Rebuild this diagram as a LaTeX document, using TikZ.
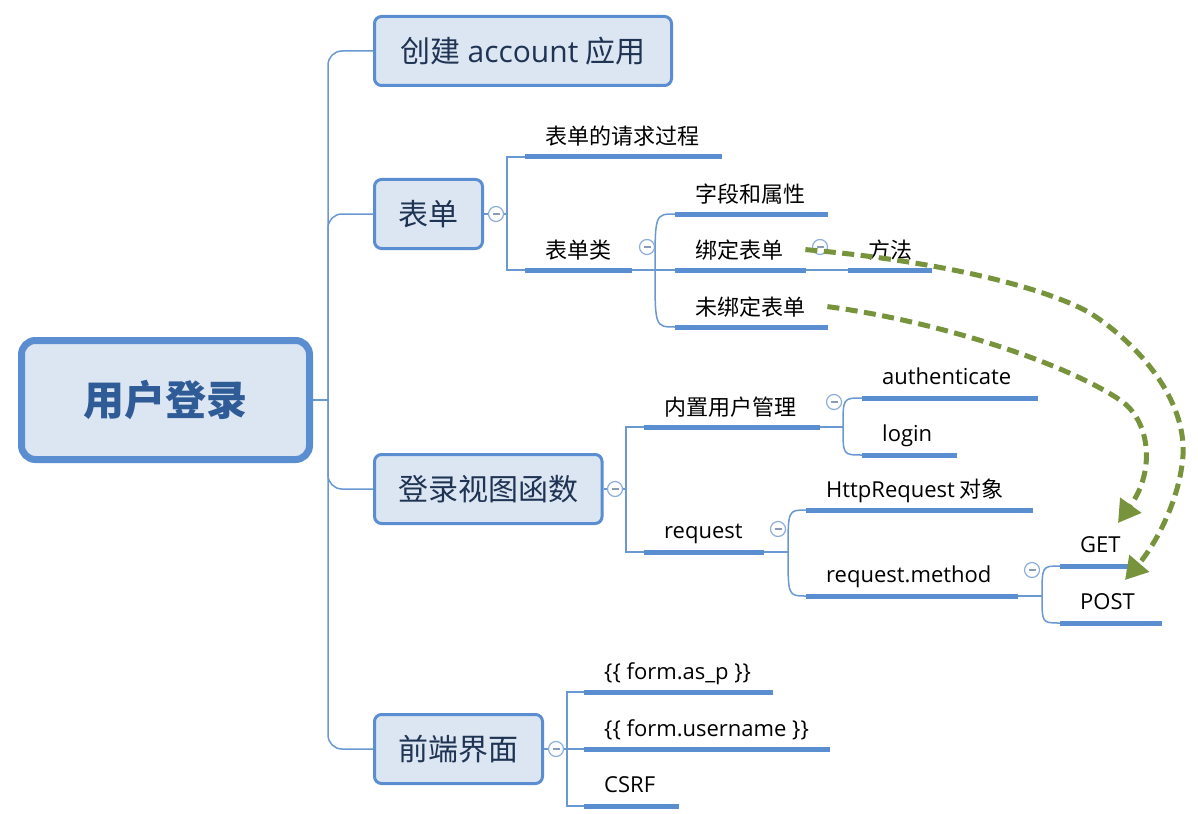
\documentclass[tikz,border=0pt]{standalone}
\usepackage{fontspec}
\setmainfont{Noto Sans CJK SC}
\newfontfamily\lat{Open Sans}
\usetikzlibrary{arrows.meta}
\definecolor{bfill}{HTML}{DCE6F2}
\definecolor{bline}{HTML}{5A8ED0}
\definecolor{cline}{HTML}{6A98D2}
\definecolor{navy}{HTML}{1F3353}
\definecolor{roottxt}{HTML}{2F5C97}
\definecolor{olive}{HTML}{77933C}
\definecolor{btnline}{HTML}{8DAEDA}
\definecolor{btnminus}{HTML}{8A9BB8}
\begin{document}
\begin{tikzpicture}[x=1pt,y=-1pt,
 lvl/.style={draw=bline, line width=3pt, fill=bfill, rounded corners=7pt, text=navy, font=\fontsize{30}{34}\selectfont, inner sep=0pt},
 rootbox/.style={draw=bline, line width=7pt, fill=bfill, rounded corners=14pt, text=roottxt, font=\bfseries\fontsize{41}{46}\selectfont, inner sep=0pt},
 leaf/.style={anchor=base west, inner sep=0pt, font=\fontsize{22}{26}\selectfont, text=black},
 uline/.style={draw=bline, line width=5pt},
 conn/.style={draw=cline, line width=1.5pt},
 btn/.style={circle, draw=btnline, fill=white, line width=1.2pt, minimum size=15pt, inner sep=0pt,
   path picture={\draw[btnminus, line width=1.3pt] ([xshift=-3.5pt]path picture bounding box.center) -- ([xshift=3.5pt]path picture bounding box.center);}},
 dasharrow/.style={draw=olive, line width=5pt, dash pattern=on 12pt off 6.5pt, -{Triangle[length=22pt,width=25pt]}}
]
\fill[white] (0,0) rectangle (1198,813);
\useasboundingbox (0,0) rectangle (1198,813);

% main boxes
\node[rootbox, minimum width=288pt, minimum height=119pt] (root) at (165.5,400) {用户登录};
\node[lvl, minimum width=297pt, minimum height=69pt] (b1) at (523,51) {创建 {\lat account} 应用};
\node[lvl, minimum width=108pt, minimum height=69pt] (b2) at (428.5,214) {表单};
\node[lvl, minimum width=227.5pt, minimum height=69pt] (b3) at (488.3,489) {登录视图函数};
\node[lvl, minimum width=168pt, minimum height=69pt] (b4) at (458.5,749) {前端界面};

% leaves
\node[leaf] (n1) at (545,145) {表单的请求过程};
\coordinate (n1a) at (525,157); \coordinate (n1b) at (722,157);
\node[leaf] (n2) at (545,258) {表单类};
\coordinate (n2a) at (525,270); \coordinate (n2b) at (632,270);
\node[leaf] (n3) at (695,202) {字段和属性};
\coordinate (n3a) at (675,214); \coordinate (n3b) at (828,214);
\node[leaf] (n4) at (695,258) {绑定表单};
\coordinate (n4a) at (675,270); \coordinate (n4b) at (806,270);
\node[leaf] (n5) at (695,315) {未绑定表单};
\coordinate (n5a) at (675,327); \coordinate (n5b) at (828,327);
\node[leaf] (n6) at (868,258) {方法};
\coordinate (n6a) at (848,270); \coordinate (n6b) at (932,270);
\node[leaf] (n7) at (664,415) {内置用户管理};
\coordinate (n7a) at (644,427); \coordinate (n7b) at (820,427);
\node[leaf] (n8) at (882,384) {\lat authenticate};
\coordinate (n8a) at (862,398); \coordinate (n8b) at (1038,398);
\node[leaf] (n9) at (882,441) {\lat login};
\coordinate (n9a) at (862,455); \coordinate (n9b) at (957,455);
\node[leaf] (n10) at (664,538) {\lat request};
\coordinate (n10a) at (644,552); \coordinate (n10b) at (764,552);
\node[leaf] (n11) at (826,497) {{\lat HttpRequest} 对象};
\coordinate (n11a) at (806,510); \coordinate (n11b) at (1033,510);
\node[leaf] (n12) at (826,582) {\lat request.method};
\coordinate (n12a) at (806,596); \coordinate (n12b) at (1018,596);
\node[leaf] (n13) at (1080,552) {\lat GET};
\coordinate (n13a) at (1060,566); \coordinate (n13b) at (1130,566);
\node[leaf] (n14) at (1080,609) {\lat POST};
\coordinate (n14a) at (1060,623); \coordinate (n14b) at (1162,623);
\node[leaf] (n15) at (604,679) {\lat \{\{ form.as\_p \}\}};
\coordinate (n15a) at (584,692); \coordinate (n15b) at (773,692);
\node[leaf] (n16) at (604,736) {\lat \{\{ form.username \}\}};
\coordinate (n16a) at (584,749); \coordinate (n16b) at (830,749);
\node[leaf] (n17) at (604,792) {\lat CSRF};
\coordinate (n17a) at (584,806); \coordinate (n17b) at (679,806);

% trunk
\coordinate (tj) at (328,400);
\draw[conn] (root.east) -- (tj);
\draw[conn, rounded corners=14pt] (b1.west) -| (tj) |- (b4.west);
\draw[conn, rounded corners=14pt] (tj) |- (b2.west);
\draw[conn, rounded corners=14pt] (tj) |- (b3.west);

% form branch
\coordinate (j2) at (507,214);
\draw[conn] (b2.east) -- (j2);
\draw[conn] (n1a) -| (j2) |- (n2a);
\coordinate (j3) at (655,270);
\draw[conn] (n2b) -- (j3) -- (n4a);
\draw[conn] (j3) .. controls (j3 |- n3a) .. (n3a);
\draw[conn] (j3) .. controls (j3 |- n5a) .. (n5a);
\draw[conn] (n4b) -- (n6a);

% login view branch
\coordinate (j7) at (626,489);
\draw[conn] (b3.east) -- (j7);
\draw[conn] (n7a) -| (j7) |- (n10a);
\coordinate (j8) at (843,427);
\draw[conn] (n7b) -- (j8);
\draw[conn] (j8) .. controls (j8 |- n8a) .. (n8a);
\draw[conn] (j8) .. controls (j8 |- n9a) .. (n9a);
\coordinate (j10) at (788,552);
\draw[conn] (n10b) -- (j10);
\draw[conn] (j10) .. controls (j10 |- n11a) .. (n11a);
\draw[conn] (j10) .. controls (j10 |- n12a) .. (n12a);
\coordinate (j12) at (1042,596);
\draw[conn] (n12b) -- (j12);
\draw[conn] (j12) .. controls (j12 |- n13a) .. (n13a);
\draw[conn] (j12) .. controls (j12 |- n14a) .. (n14a);

% front end branch
\coordinate (j15) at (567,749);
\draw[conn] (b4.east) -- (j15);
\draw[conn] (n15a) -| (j15) |- (n17a);
\draw[conn] (j15) -- (n16a);

% underlines
\foreach \k in {1,...,17} { \draw[uline] (n\k a) -- (n\k b); }

% collapse buttons
\node[btn] (k2) at (496,214) {};
\node[btn] (k3) at (647,247) {};
\node[btn] (k4) at (820,247) {};
\node[btn] (k7) at (615,489) {};
\node[btn] (k8) at (834,402) {};
\node[btn] (k10) at (778,529) {};
\node[btn] (k12) at (1032,570) {};
\node[btn] (k15) at (556,749) {};

% dashed arrows
\coordinate (s1) at ([xshift=22pt]n4.east);
\coordinate (t1) at (1125,580);
\draw[dasharrow] (s1) .. controls (950,262) and (1050,290) .. (1090,313)
   .. controls (1140,345) and (1186,400) .. (1183,455)
   .. controls (1180,500) and (1155,545) .. (t1);
\coordinate (s2) at ([xshift=22pt]n5.east);
\coordinate (t2) at (1118,523);
\draw[dasharrow] (s2) .. controls (930,320) and (1060,360) .. (1120,400)
   .. controls (1150,420) and (1156,470) .. (t2);
\end{tikzpicture}
\end{document}
